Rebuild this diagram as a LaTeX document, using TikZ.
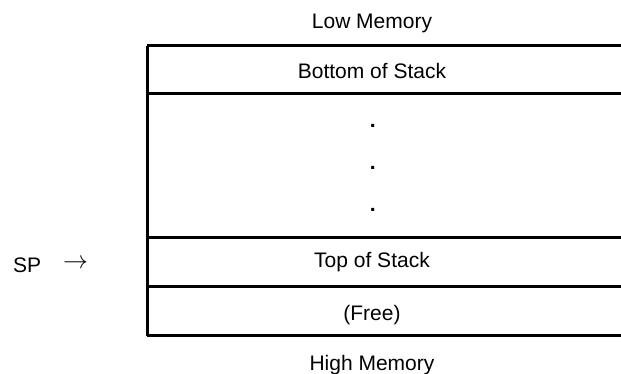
\documentclass[tikz,border=0pt]{standalone}
\usepackage{fontspec}
\setmainfont{Liberation Sans}
\begin{document}
\begin{tikzpicture}[x=1pt,y=-1pt,
  lbl/.style={inner sep=0pt,anchor=base,font=\fontsize{21}{25}\selectfont},
  dotlbl/.style={lbl,font=\fontsize{21}{25}\selectfont\bfseries},
  rule/.style={line width=3.4pt}]
\useasboundingbox (0,0) rectangle (621,373);
% structure lines
\coordinate (tl) at (147,45.5);
\coordinate (bl) at (147,335.7);
\draw[rule] (147,45.5) -- (621,45.5);
\draw[rule] (147,93.5) -- (621,93.5);
\draw[rule] (147,237.7) -- (621,237.7);
\draw[rule] (147,286.7) -- (621,286.7);
\draw[rule] (147,335.7) -- (621,335.7);
\draw[rule,line width=3pt] (tl) -- (bl);
% labels
\node[lbl] (low) at (372,28) {Low Memory};
\node[lbl] (bos) at (372,78) {Bottom of Stack};
\node[dotlbl] (d1) at (372.7,127.5) {.};
\node[dotlbl] (d2) at (372.7,169.5) {.};
\node[dotlbl] (d3) at (372.7,211.5) {.};
\node[lbl] (tos) at (372,267) {Top of Stack};
\node[lbl] (free) at (372,320) {(Free)};
\node[lbl] (high) at (372,370) {High Memory};
\node[lbl,anchor=base west] (sp) at (13,272) {SP};
\node[inner sep=0pt,font=\fontsize{28}{30}\selectfont] (arr) at (75.5,264) {$\rightarrow$};
\end{tikzpicture}
\end{document}
